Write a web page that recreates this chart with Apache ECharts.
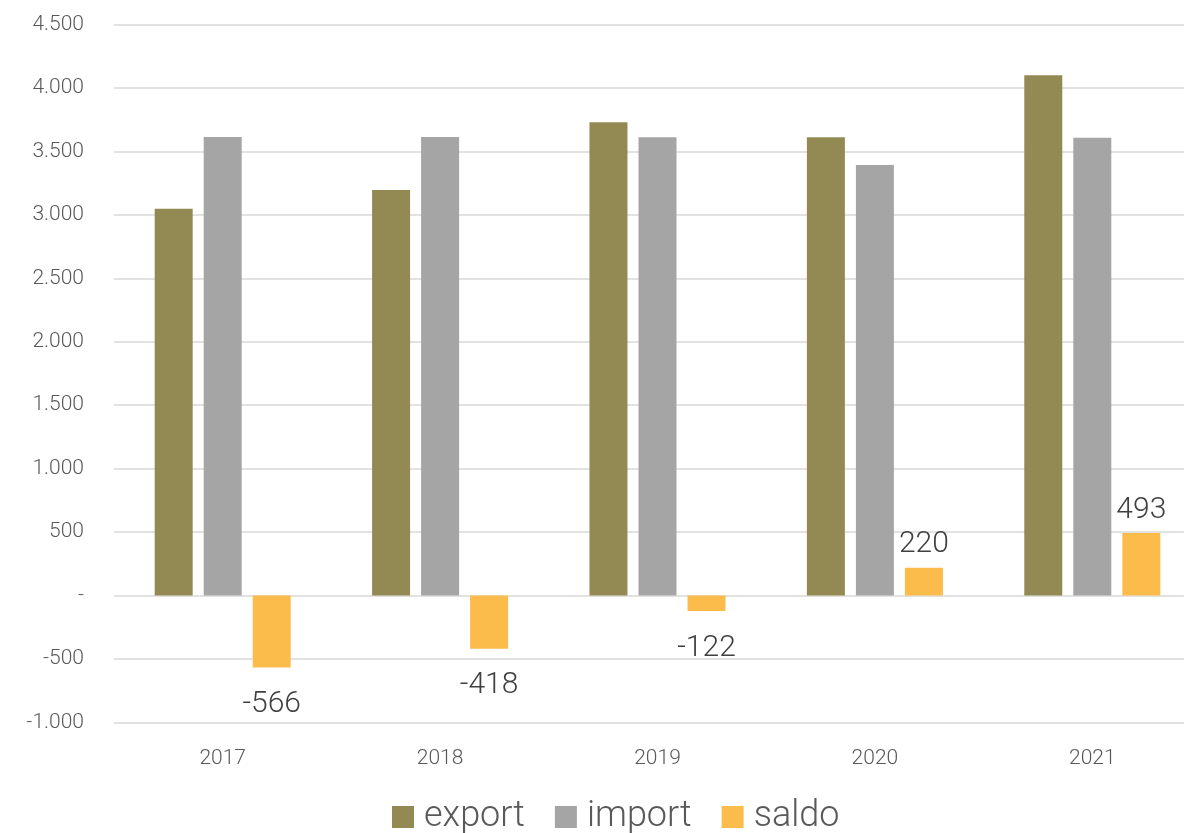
<!DOCTYPE html>
<html>
<head>
<meta charset="utf-8">
<script src="https://cdn.jsdelivr.net/npm/echarts@6/dist/echarts.min.js"></script>
<style>
  html, body { margin: 0; padding: 0; background: #fff; }
  #chart { width: 1184px; height: 833px; }
</style>
</head>
<body>
<div id="chart"></div>
<script>
// Yearly trade figures
const years = ['2017', '2018', '2019', '2020', '2021'];
const exportVals = [3048, 3196, 3730, 3612, 4100];
const importVals = [3614, 3614, 3612, 3392, 3607];
const saldoVals = [-566, -418, -122, 220, 493];
const seriesNames = ['export', 'import', 'saldo'];
const colors = ['#938953', '#a5a5a5', '#fbbc4b'];

const FONT = 'Roboto, "Liberation Sans", sans-serif';

// thousands separated with dots, zero shown as a dash
function fmt(v) {
  if (v === 0) return '-';
  const s = Math.abs(v).toString().replace(/\B(?=(\d{3})+(?!\d))/g, '.');
  return (v < 0 ? '-' : '') + s;
}

const chart = echarts.init(document.getElementById('chart'), null, { renderer: 'canvas' });

const saldoData = saldoVals.map(v => ({
  value: v,
  label: v < 0 ? { position: 'bottom', distance: 22 } : { position: 'top', distance: 8 }
}));

const option = {
  backgroundColor: '#ffffff',
  animation: false,
  color: colors,
  grid: { left: 114, top: 24.5, width: 1087, bottom: 110.5, containLabel: false, outerBoundsMode: 'none' },
  legend: {
    data: seriesNames,
    left: 387,
    top: 794,
    itemWidth: 22,
    itemHeight: 22,
    itemGap: 30,
    icon: 'rect',
    textStyle: { fontFamily: FONT, fontWeight: 300, fontSize: 36, color: '#595959', padding: [0, 0, 0, 5] }
  },
  xAxis: {
    type: 'category',
    data: years,
    axisLine: { show: false, onZero: false },
    axisTick: { show: false },
    axisLabel: { fontFamily: FONT, fontWeight: 300, fontSize: 21, color: '#595959', margin: 26 }
  },
  yAxis: {
    type: 'value',
    min: -1000,
    max: 4500,
    interval: 500,
    axisLine: { show: false },
    axisTick: { show: false },
    splitLine: { lineStyle: { color: '#d9d9d9', width: 1.5 } },
    axisLabel: { fontFamily: FONT, fontWeight: 300, fontSize: 21, color: '#595959', margin: 30, formatter: fmt }
  },
  series: [
    { name: seriesNames[0], type: 'bar', data: exportVals, barWidth: 38, barGap: '29%' },
    { name: seriesNames[1], type: 'bar', data: importVals, barWidth: 38, barGap: '29%' },
    {
      name: seriesNames[2], type: 'bar', data: saldoData, barWidth: 38, barGap: '29%',
      label: {
        show: true,
        fontFamily: FONT, fontWeight: 300, fontSize: 30, color: '#404040',
        formatter: p => fmt(p.value)
      }
    }
  ]
};

chart.setOption(option);
</script>
</body>
</html>
